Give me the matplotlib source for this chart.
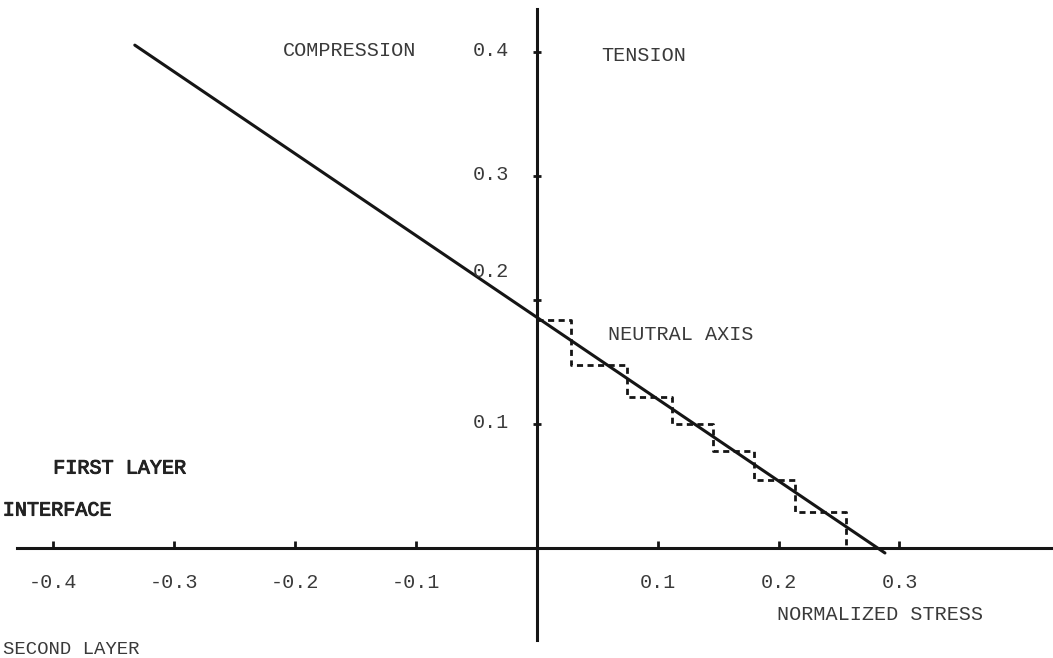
import matplotlib
matplotlib.use("Agg")
import matplotlib.pyplot as plt
import matplotlib.patheffects as pe

# ---- data ----
line_x = [-0.3325, 0.288]
line_y = [0.4056, -0.004]

stair_x = [0.0, 0.028, 0.075, 0.112, 0.146, 0.180, 0.214, 0.256]
stair_y = [0.184, 0.148, 0.122, 0.100, 0.078, 0.055, 0.029, 0.0]

xticks = [-0.4, -0.3, -0.2, -0.1, 0.1, 0.2, 0.3]
xtick_labels = ["-0.4", "-0.3", "-0.2", "-0.1", "0.1", "0.2", "0.3"]
yticks = [0.1, 0.2, 0.3, 0.4]
ytick_labels = ["0.1", "0.2", "0.3", "0.4"]

plt.rcParams['font.family'] = ['Liberation Mono', 'DejaVu Sans Mono']
TXT = '#3a3a3a'
INK = '#151515'

fig = plt.figure(figsize=(10.53, 6.58), dpi=100)
ax = fig.add_axes([0, 0, 1, 1])
ax.set_xlim(-0.444, 0.427)
ax.set_ylim(-0.0887, 0.442)

for s in ['top', 'right']:
    ax.spines[s].set_visible(False)
ax.spines['left'].set_position(('data', 0))
ax.spines['bottom'].set_position(('data', 0))
ax.spines['left'].set_bounds(-0.074, 0.435)
ax.spines['bottom'].set_bounds(-0.430, 0.427)
for s in ['left', 'bottom']:
    ax.spines[s].set_linewidth(2.2)
    ax.spines[s].set_color(INK)

ax.set_xticks(xticks)
ax.set_yticks(yticks)
ax.set_xticklabels([])
ax.set_yticklabels([])
ax.tick_params(axis='x', direction='in', length=5, width=2, color=INK)
ax.tick_params(axis='y', direction='inout', length=6, width=2, color=INK)

# main line
ax.plot(line_x, line_y, color=INK, lw=2.2, solid_capstyle='round')
# staircase
ax.step(stair_x, stair_y, where='post', color=INK, lw=2.0, linestyle=(0, (2.2, 1.6)))

fs = 14.5
# x tick labels
for v, lab in zip(xticks, xtick_labels):
    ax.text(v, -0.0282, lab, ha='center', va='center', fontsize=fs, color=TXT)
# y tick labels
for v, lab in zip(yticks, ytick_labels):
    dy = 0.023 if v == 0.2 else 0.001
    ax.text(-0.0225, v + dy, lab, ha='right', va='center', fontsize=fs, color=TXT)

heavy = [pe.withStroke(linewidth=0.7, foreground='#222222')]
ax.text(-0.1547, 0.4016, "COMPRESSION", ha='center', va='center', fontsize=fs, color=TXT)
ax.text(0.0885, 0.3975, "TENSION", ha='center', va='center', fontsize=fs, color=TXT)
ax.text(0.0587, 0.1720, "NEUTRAL AXIS", ha='left', va='center', fontsize=fs, color=TXT)
ax.text(-0.400, 0.0645, "FIRST LAYER", ha='left', va='center', fontsize=fs,
        color='#222222', path_effects=heavy)
ax.text(-0.4417, 0.0306, "INTERFACE", ha='left', va='center', fontsize=fs,
        color='#222222', path_effects=heavy)
ax.text(0.1985, -0.0540, "NORMALIZED STRESS", ha='left', va='center', fontsize=fs, color=TXT)
ax.text(-0.4417, -0.0815, "SECOND LAYER", ha='left', va='center', fontsize=13.7, color=TXT)

fig.savefig("out.png", dpi=100, facecolor='white')
